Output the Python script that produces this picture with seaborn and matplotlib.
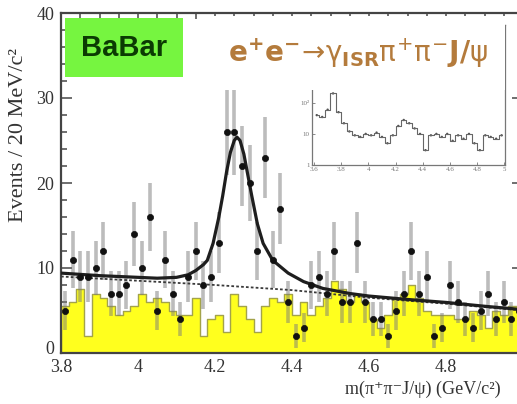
import numpy as np
import pandas as pd
import matplotlib
matplotlib.use("Agg")
import matplotlib.pyplot as plt
import matplotlib.transforms as mtransforms
import seaborn as sns
from matplotlib.patches import Rectangle
from matplotlib.ticker import MultipleLocator, FixedLocator, NullLocator

# ---------------- data ----------------
bin_edges = [round(3.80 + 0.02 * i, 2) for i in range(61)]
bin_centers = [round(3.81 + 0.02 * i, 3) for i in range(60)]

counts = [5, 11, 9, 9, 10, 12, 7, 7, 8, 14,
          10, 16, 5, 11, 7, 4, 9, 12, 8, 9,
          13, 26, 26, 22, 20, 12, 23, 11, 17, 6,
          2, 3, 8, 9, 7, 12, 6, 6, 13, 6,
          4, 4, 2, 5, 7, 12, 7, 9, 2, 3,
          8, 6, 4, 3, 5, 7, 4, 6, 4, 5]

sideband = [5.5, 6, 7.5, 2, 7, 6.5, 5.5, 4.5, 5, 5.5,
            7, 6, 6.5, 6, 5, 4.5, 4.5, 6.5, 2, 4,
            4.5, 2.5, 7, 5.5, 4, 2.5, 5.5, 6.5, 6, 7,
            4.5, 6, 4.5, 5.5, 6.5, 8.5, 7.5, 6, 7, 6,
            4, 3, 4.5, 6.5, 7, 8, 6.5, 5, 4.5, 4.5,
            4.5, 4, 4, 5, 4.5, 3, 5, 4.5, 5.5, 5.5]

fit_mass = [3.80, 3.90, 4.00, 4.05, 4.10, 4.13, 4.15, 4.17, 4.18, 4.195,
            4.21, 4.22, 4.23, 4.24, 4.25, 4.257, 4.265, 4.275, 4.285, 4.295,
            4.31, 4.325, 4.35, 4.39, 4.43, 4.48, 4.55, 4.60, 4.70, 4.80,
            4.90, 5.00]
fit_events = [9.4, 9.1, 8.9, 8.8, 8.9, 9.2, 9.7, 10.4, 10.9, 12.9,
              16.0, 18.5, 21.3, 23.6, 25.0, 25.4, 25.0, 23.4, 21.0, 18.6,
              15.2, 12.9, 10.9, 9.4, 8.4, 7.6, 7.0, 6.7, 6.3, 5.95,
              5.5, 5.1]

bkg_mass = [3.80, 4.00, 4.20, 4.40, 4.60, 4.80, 5.00]
bkg_events = [9.0, 8.5, 8.0, 7.4, 6.5, 5.8, 5.0]

inset_mass = [round(3.62 + 0.04 * i, 2) for i in range(35)]
inset_events = [40, 35, 60, 200, 50, 22, 12, 9, 8, 10,
                9, 11, 8, 5, 9, 18, 28, 22, 15, 10,
                3, 9, 10, 8, 10, 6, 9, 7, 10, 5,
                3, 9, 8, 7, 9]

xtick_vals = [3.8, 4.0, 4.2, 4.4, 4.6, 4.8]
xtick_labels = ["3.8", "4", "4.2", "4.4", "4.6", "4.8"]
ytick_vals = [0, 10, 20, 30, 40]
ytick_labels = ["0", "10", "20", "30", "40"]
inset_xticks = [3.6, 3.8, 4.0, 4.2, 4.4, 4.6, 4.8, 5.0]
inset_xlabels = ["3.6", "3.8", "4", "4.2", "4.4", "4.6", "4.8", "5"]

# ---------------- figure ----------------
sns.set_style("ticks")
serif = ["Liberation Serif", "DejaVu Serif"]
plt.rcParams["font.family"] = serif
plt.rcParams["mathtext.fontset"] = "custom"
plt.rcParams["mathtext.rm"] = "DejaVu Sans"
plt.rcParams["mathtext.it"] = "DejaVu Sans"
plt.rcParams["mathtext.bf"] = "DejaVu Sans:bold"

W, H = 517, 404
fig = plt.figure(figsize=(W / 100, H / 100), dpi=100)
fig.patch.set_facecolor("white")

def fx(px):
    return px / W

def fy(py):
    return 1 - py / H

ax = fig.add_axes([fx(61), fy(353), fx(523) - fx(61), fy(13) - fy(353)])
ax.set_facecolor("white")

hist_df = pd.DataFrame({"mass": bin_centers, "bkg": sideband})
sns.histplot(data=hist_df, x="mass", weights="bkg", bins=bin_edges,
             element="step", fill=True, color="#ffff1e", alpha=1.0,
             edgecolor="#a3a34a", linewidth=1.0, ax=ax, zorder=1)

ax.errorbar(bin_centers, counts, yerr=np.sqrt(counts), fmt="none",
            ecolor="#7a7a7a", elinewidth=2.6, alpha=0.5, zorder=2)

sns.lineplot(x=bkg_mass, y=bkg_events, color="#3a3a3a", lw=1.3,
             linestyle=(0, (1.5, 1.2)), sort=False, ax=ax, zorder=3)
sns.lineplot(x=fit_mass, y=fit_events, color="#1e1e1e", lw=2.3,
             sort=False, ax=ax, zorder=4)
sns.scatterplot(x=bin_centers, y=counts, color="#111111", s=20,
                edgecolor="#111111", linewidth=0.5, ax=ax, zorder=5)

ax.set_xlim(3.8, 5.0)
ax.set_ylim(0, 40)
ax.set_xlabel("")
ax.set_ylabel("")
ax.xaxis.set_major_locator(FixedLocator(xtick_vals))
ax.set_xticklabels(xtick_labels)
ax.yaxis.set_major_locator(FixedLocator(ytick_vals))
ax.set_yticklabels(ytick_labels)
ax.xaxis.set_minor_locator(MultipleLocator(0.05))
ax.yaxis.set_minor_locator(MultipleLocator(2))
ax.tick_params(which="both", direction="in", top=True, right=True,
               color="#555555", width=1.2, labelcolor="#333333",
               labelsize=13)
ax.tick_params(which="major", length=8)
ax.tick_params(which="minor", length=4.5)
ax.tick_params(axis="x", pad=4)
ax.tick_params(axis="y", pad=5)
for s in ax.spines.values():
    s.set_color("#444444")
    s.set_linewidth(1.6)

# lift the "0" label a little so it does not sit on top of "3.8"
zero_label = ax.get_yticklabels()[0]
zero_label.set_transform(zero_label.get_transform() +
                         mtransforms.ScaledTranslation(0, 4 / 72,
                                                       fig.dpi_scale_trans))

fig.text(fx(19), fy(135), "Events / 20 MeV/c²", rotation=90,
         ha="center", va="center", fontsize=16, color="#333333",
         family=serif)
fig.text(fx(345), fy(389), "m(π⁺π⁻J/ψ) (GeV/c²)",
         ha="left", va="center", fontsize=13, color="#333333",
         family=serif)

# ---------------- inset ----------------
axi = fig.add_axes([fx(312), fy(165), fx(505) - fx(312), fy(25) - fy(165)],
                   zorder=2)
axi.set_facecolor("white")
sns.lineplot(x=inset_mass, y=inset_events, color="#666666", lw=0.8,
             drawstyle="steps-mid", ax=axi)
sns.scatterplot(x=inset_mass, y=inset_events, color="#555555", s=3,
                edgecolor="none", ax=axi)
axi.set_yscale("log")
axi.set_xlim(3.585, 5.005)
axi.set_ylim(1, 10 ** 4.5)
axi.set_xlabel("")
axi.set_ylabel("")
axi.xaxis.set_major_locator(FixedLocator(inset_xticks))
axi.set_xticklabels(inset_xlabels)
axi.yaxis.set_major_locator(FixedLocator([1, 10, 100]))
axi.set_yticklabels(["1", "10", "10²"])
axi.yaxis.set_minor_locator(NullLocator())
axi.xaxis.set_minor_locator(NullLocator())
axi.tick_params(which="both", direction="in", length=2, width=0.6,
                color="#777777", labelcolor="#777777", labelsize=5, pad=1.5)
for s in axi.spines.values():
    s.set_color("#777777")
    s.set_linewidth(0.9)

# ---------------- annotations ----------------
fig.patches.append(Rectangle((fx(213), fy(90)), fx(505) - fx(213),
                             fy(16) - fy(90), transform=fig.transFigure,
                             facecolor="white", edgecolor="none", zorder=10))
fig.patches.append(Rectangle((fx(65), fy(77)), fx(183) - fx(65),
                             fy(18) - fy(77), transform=fig.transFigure,
                             facecolor="#76f540", edgecolor="none", zorder=10))
fig.text(fx(124), fy(47.5), "BaBar", ha="center", va="center",
         fontsize=21, fontweight="bold", color="#0b3b03",
         family=["Liberation Sans", "DejaVu Sans"], zorder=11)
fig.text(fx(228), fy(62),
         r"$\mathbf{e}^{\mathbf{+}}\mathbf{e}^{\mathbf{-}}\!\rightarrow\!\gamma_{\mathbf{ISR}}\pi^{+}\pi^{-}\mathbf{J/}\psi$",
         ha="left", va="baseline", fontsize=20, color="#b47b3c", zorder=11)

fig.savefig("out.png", dpi=100)
